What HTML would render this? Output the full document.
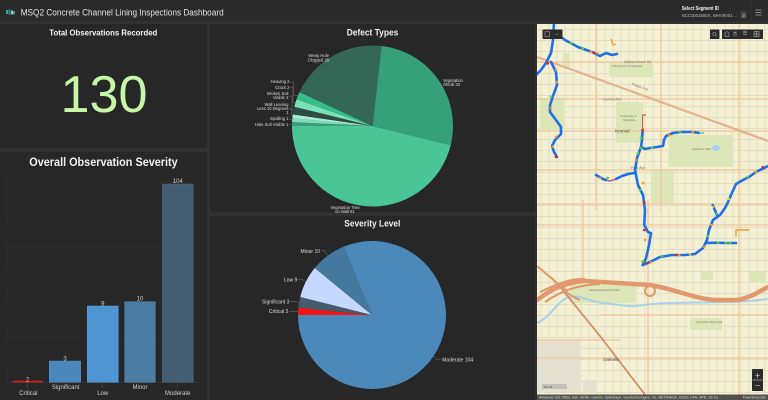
<!DOCTYPE html>
<html><head><meta charset="utf-8"><style>
html,body{margin:0;padding:0;background:#313131;width:768px;height:400px;overflow:hidden}
svg{display:block}
</style></head><body>
<svg width="768" height="400" viewBox="0 0 768 400" xmlns="http://www.w3.org/2000/svg" font-family="'Liberation Sans', sans-serif">
<defs>
<clipPath id="mc"><rect x="537" y="24" width="231" height="376"/></clipPath>
<pattern id="st" width="8" height="11" patternUnits="userSpaceOnUse" x="537" y="24">
<path d="M4 0V11M0 5.5H8" stroke="#dfd8c2" stroke-width="0.7" fill="none"/>
</pattern>
</defs>
<rect width="768" height="400" fill="#313131"/>
<!-- header -->
<rect x="0" y="0" width="768" height="21" fill="#2a2a2a"/>
<g>
<rect x="6" y="10" width="2" height="4" fill="#3fae5a"/>
<rect x="8.5" y="9.5" width="2" height="5" fill="#2f7fd0"/>
<rect x="11" y="10.5" width="2" height="4" fill="#9ed35a"/>
<rect x="13.2" y="11" width="1.6" height="3.5" fill="#4aa0e0"/>
</g>
<text x="20.7" y="15.3" font-size="9.5" fill="#e4e4e4" textLength="203" lengthAdjust="spacingAndGlyphs">MSQ2 Concrete Channel Lining Inspections Dashboard</text>
<text x="681.7" y="9.8" font-size="5.2" font-weight="bold" fill="#f0f0f0" textLength="37.3" lengthAdjust="spacingAndGlyphs">Select Segment ID</text>
<text x="681.7" y="17" font-size="4.8" fill="#bdbdbd" textLength="55.6" lengthAdjust="spacingAndGlyphs">SCC1001500X, WHV9001 ...</text>
<rect x="740.5" y="11.5" width="6" height="7" fill="#454545" rx="0.5"/>
<text x="743.5" y="16.8" font-size="4.5" fill="#ddd" text-anchor="middle">3</text>
<path d="M751 2V20" stroke="#3a3a3a" stroke-width="0.8"/>
<path d="M755.5 10H761.5M755.5 12.5H761.5M755.5 15H761.5" stroke="#aaa" stroke-width="0.8"/>

<!-- panels -->
<rect x="0" y="24" width="207" height="124" fill="#272727"/>
<rect x="0" y="152" width="207" height="248" fill="#272727"/>
<rect x="210" y="24" width="325" height="188.5" fill="#272727"/>
<rect x="210" y="216" width="325" height="184" fill="#272727"/>

<!-- Total observations -->
<text x="103.3" y="35.3" font-size="8.3" font-weight="bold" fill="#f4f4f4" text-anchor="middle" textLength="108" lengthAdjust="spacingAndGlyphs">Total Observations Recorded</text>
<text x="104" y="112" font-size="52" fill="#c6f6a8" text-anchor="middle" textLength="87" lengthAdjust="spacingAndGlyphs">130</text>

<!-- Bar chart -->
<text x="103.5" y="166" font-size="12" font-weight="bold" fill="#f0f0f0" text-anchor="middle" textLength="148.4" lengthAdjust="spacingAndGlyphs">Overall Observation Severity</text>
<g stroke="#3c3c3c" stroke-width="0.5" stroke-dasharray="1,1.5" fill="none">
<path d="M7 336.5H200M7 301.6H200M7 267H200M7 246.7H200M7 212H200M7 204.4H200M7 197.8H200M7 191.9H200M7 181.5H200"/>
<path d="M7 178V382"/>
</g>
<path d="M7 382.5H200" stroke="#3a3a3a" stroke-width="0.5"/>
<rect x="49.3" y="361" width="31.4" height="21.3" fill="#4a87bd" stroke="#5894c8" stroke-width="0.5"/>
<rect x="87.3" y="306" width="31" height="76.3" fill="#4e95d2" stroke="#5ca0da" stroke-width="0.5"/>
<rect x="124.7" y="301.7" width="30.6" height="80.6" fill="#4a7ca4" stroke="#5789b0" stroke-width="0.5"/>
<rect x="162.3" y="184" width="31" height="198.3" fill="#435e72" stroke="#4e6a80" stroke-width="0.5"/>
<rect x="12.7" y="380.8" width="30" height="1.6" fill="#e01818"/>
<g font-size="6" fill="#d0d0d0" text-anchor="middle">
<text x="27.7" y="381.5">2</text>
<text x="65" y="360.3">3</text>
<text x="102.8" y="305.3">9</text>
<text x="140" y="300.3">10</text>
<text x="177.8" y="183">104</text>
</g>
<path d="M27.7 382.5V388M102.8 382.5V388M177.8 382.5V388" stroke="#555" stroke-width="0.5"/>
<g font-size="6" fill="#cfcfcf" text-anchor="middle">
<text x="28.3" y="394.8">Critical</text>
<text x="65.7" y="388.8">Significant</text>
<text x="102.7" y="394.8">Low</text>
<text x="140" y="388.8">Minor</text>
<text x="177.7" y="394.8">Moderate</text>
</g>

<!-- Defect Types pie -->
<text x="372.5" y="35.7" font-size="9" font-weight="bold" fill="#f0f0f0" text-anchor="middle" textLength="51.6" lengthAdjust="spacingAndGlyphs">Defect Types</text>
<g>
<path d="M372.5 126L450.71 145.07A80.5 80.5 0 0 1 292 126Z" fill="#4ac596"/>
<path d="M372.5 126L292 126A80.5 80.5 0 0 1 292.09 122.11Z" fill="#3b9c79"/>
<path d="M372.5 126L292.09 122.11A80.5 80.5 0 0 1 292.38 118.23Z" fill="#7fdcb7"/>
<path d="M372.5 126L292.38 118.23A80.5 80.5 0 0 1 292.85 114.37Z" fill="#a6eed3"/>
<path d="M372.5 126L292.85 114.37A80.5 80.5 0 0 1 294.34 106.73Z" fill="#2e4c42"/>
<path d="M372.5 126L294.34 106.73A80.5 80.5 0 0 1 296.56 99.28Z" fill="#78e2b6"/>
<path d="M372.5 126L296.56 99.28A80.5 80.5 0 0 1 299.49 92.09Z" fill="#34bf89"/>
<path d="M372.5 126L299.49 92.09A80.5 80.5 0 0 1 381.61 46.02Z" fill="#346856"/>
<path d="M372.5 126L381.61 46.02A80.5 80.5 0 0 1 450.71 145.07Z" fill="#36a078"/>
</g>
<g stroke="#8a8a8a" stroke-width="0.4" fill="none">
<path d="M290 82H293.5V95L297.9 95.7"/>
<path d="M290 87.5H293V102.5L295.4 103"/>
<path d="M289 96H292V110.5L293.5 110.5"/>
<path d="M289 108.5H291.5V116.3L292.6 116.3"/>
<path d="M289 119H291V120.1L292.2 120.1"/>
<path d="M289 124.5H292"/>
</g>
<g font-size="4.2" fill="#dcdcdc" text-anchor="end">
<text x="289.5" y="83.2">Heaving 2</text>
<text x="289.5" y="88.8">Crack 2</text>
<text x="288.5" y="94.8">Broken Soil</text>
<text x="288.5" y="99.2">Visible 2</text>
<text x="288.5" y="105.8">Wall Leaning</text>
<text x="288.5" y="109.8">Less 10 Degrees</text>
<text x="288.5" y="114.2">1</text>
<text x="288.5" y="120.2">Spalling 1</text>
<text x="288.5" y="125.8">Hole Soil Visible 1</text>
<text x="329" y="57">Weep Hole</text>
<text x="329" y="61.5">Clogged 28</text>
</g>
<g font-size="4.2" fill="#dcdcdc">
<text x="443" y="81.8">Vegetation</text>
<text x="443" y="85.8">Shrub 33</text>
</g>
<g font-size="4.2" fill="#dcdcdc" text-anchor="middle">
<text x="345" y="209">Vegetation Tree</text>
<text x="345" y="213.2">on Wall 61</text>
</g>

<!-- Severity pie -->
<text x="372.3" y="226.3" font-size="9" font-weight="bold" fill="#f0f0f0" text-anchor="middle" textLength="56" lengthAdjust="spacingAndGlyphs">Severity Level</text>
<path d="M372 315L343.68 246.63A74 74 0 1 1 298 315Z" fill="#4a89ba"/>
<path d="M372 315L298 315A74 74 0 0 1 298.36 307.74Z" fill="#f41414"/>
<path d="M372 315L298.36 307.74A74 74 0 0 1 300.22 297.02Z" fill="#445b6c"/>
<path d="M372 315L300.22 297.02A74 74 0 0 1 314.8 268.05Z" fill="#c6d8ff"/>
<path d="M372 315L314.8 268.05A74 74 0 0 1 343.68 246.63Z" fill="#44789d"/>
<g stroke="#8a8a8a" stroke-width="0.4" fill="none">
<path d="M321 250.5H324.5L327.5 255.5"/>
<path d="M298.5 279.7H302.5L305.9 281.8"/>
<path d="M290 301.7H295L299.1 302.4"/>
<path d="M289 311.3H298.1"/>
<path d="M433.5 356.1L437 359.5H441"/>
</g>
<g font-size="5" fill="#dcdcdc" text-anchor="end">
<text x="320" y="252.8">Minor 10</text>
<text x="297.3" y="281.5">Low 9</text>
<text x="289.3" y="303.5">Significant 3</text>
<text x="288.3" y="313.1">Critical 2</text>
</g>
<text x="442.3" y="361.5" font-size="5" fill="#dcdcdc">Moderate 104</text>

<!-- Map -->
<g clip-path="url(#mc)">
<rect x="537" y="24" width="231" height="376" fill="#f4f0d3"/>
<rect x="537" y="24" width="231" height="376" fill="url(#st)"/>
<!-- parks -->
<g fill="#dde6b6">
<rect x="609" y="62" width="44" height="15" rx="2"/>
<rect x="616" y="102" width="27" height="41" rx="1"/>
<rect x="669" y="135" width="64" height="32" rx="2"/>
<rect x="540" y="98" width="24" height="32" rx="1"/>
<rect x="651" y="170" width="23" height="33" rx="1"/>
<rect x="563" y="53" width="7" height="14"/>
<rect x="570" y="285" width="66" height="18" rx="3"/>
<rect x="701" y="272" width="12" height="8"/>
<rect x="749" y="272" width="17" height="11"/>
<rect x="690" y="318" width="32" height="12" rx="2"/>
</g>
<ellipse cx="716" cy="148" rx="4" ry="3" fill="#a9d1ec"/>
<rect x="537" y="340" width="43" height="52" fill="#e3e0d0"/>
<rect x="583" y="380" width="13" height="13" fill="#e3e0d0"/>
<!-- arterials -->
<g stroke="#f0cba0" stroke-width="1.5" fill="none">
<path d="M537 62H768M537 99H768M537 131H768M537 170H768M537 204H768M537 225H768M537 358H768M537 340H620M600 315H768"/>
<path d="M596 24V210M661 24V210M648 200V400M583 200V280M739 24V400"/>
</g>
<path d="M537 57L768 141" stroke="#e6b08a" stroke-width="2.2" fill="none"/>
<!-- river -->
<path d="M537 323C550 318 558 300 569 297S590 302 603 303S625 307 636 306S655 303 669 303S720 302 736 301.7S758 300 768 299" stroke="#a9d1ec" stroke-width="2" fill="none"/>
<!-- railway -->
<path d="M561 288L600 336L646 396" stroke="#d28e66" stroke-width="1.8" fill="none"/>
<!-- highway -->
<g stroke="#e0986c" stroke-width="4.5" fill="none" stroke-linecap="round">
<path d="M537 300C548 292 560 283 585 281L650 285C675 289 695 299 715 300L738 300C752 297 760 291 768 287"/>
</g>
<g stroke="#e0986c" stroke-width="2" fill="none">
<path d="M537 266C548 275 555 282 566 290"/>
<path d="M540 292C555 285 570 278 585 279"/>
<path d="M545 302C560 292 575 285 600 284"/>
<path d="M552 278C560 288 570 296 580 300"/>
<circle cx="650" cy="291" r="5"/>
</g>
<!-- map labels -->
<g font-size="3.6" fill="#7a7a68">
<text x="624" y="63.2">Walnut Grove Rd</text>
<text x="631" y="88" transform="rotate(20 640 88)">Poplar Ave</text>
<text x="603" y="100.3">Central Ave</text>
<text x="631" y="169">Park Ave</text>
<text x="620" y="117" font-size="3">University of</text>
<text x="623" y="121" font-size="3">Memphis</text>
<text x="692" y="150" font-size="3">Audubon Park</text>
<text x="589" y="291" font-size="3">Seat Buckingham Park</text>
<text x="696" y="323" font-size="3">American Way Park</text>
<text x="612" y="67" font-size="3">The Grove of Oakness</text>
</g>
<text x="615" y="132.5" font-size="4.5" fill="#555">Normal</text>
<text x="603" y="361" font-size="4.5" fill="#555">Oakville</text>
<!-- inspection lines -->
<g stroke="#1f6fe5" stroke-width="2.6" fill="none" stroke-linejoin="round" stroke-linecap="round">
<path d="M554 22L553 40L551 53L546 63L541 70L536 75"/>
<path d="M551 62L556 72L557 85L553 96L550 105L550 112L556 120L561 127L561 134L555 140L552 146L554 152L557 157"/>
<path d="M556 33L565 40L578 47L592 52L600 56L606 53L612 55L617 54"/>
<path d="M642.7 130L642 140L641 147L637 158L635 170L638 185L643 195L645 210L644.3 225L647.7 231.7L651 233.3L648.7 246.7L646 258.3L642.7 265"/>
<path d="M642.7 265L650 262L660 257L672 255L685 255L695 254L703 248L707 240L709 230L713 220L720 215L725 208L728 202L731 195L736 184L743 180L749 177L756 172L768 166"/>
<path d="M712.7 205L717.7 216.7"/>
<path d="M707 243L716 242.7L725 243L736 243"/>
<path d="M641 147L645 149L650 148L657 147L663 146L664 140L666 136L673 133L682 132L693 132L699 133"/>
<path d="M596 175L603 179L606 180"/>
<path d="M616 179L622 176L628 174L634 173"/>
</g>
<path d="M606 180L610 181L616 179" stroke="#b05090" stroke-width="1.4" fill="none"/>
<path d="M699 133L704 133" stroke="#5cc6c0" stroke-width="1.4" fill="none"/>
<path d="M646 115H642.7V130" stroke="#e02a2a" stroke-width="0.9" fill="none"/>
<path d="M736 236.7V230H749.3" stroke="#f0a030" stroke-width="1.4" fill="none"/>
<path d="M611 39L613 45L616 44" stroke="#f0a030" stroke-width="1.4" fill="none"/>
<!-- dots -->
<g>
<g fill="#5bd43a">
<circle cx="571" cy="43.3" r="1.4"/><circle cx="582.7" cy="48.3" r="1.4"/><circle cx="551" cy="96.7" r="1.3"/>
<circle cx="641" cy="138" r="1.4"/><circle cx="641" cy="148" r="1.4"/><circle cx="637.7" cy="153.3" r="1.3"/>
<circle cx="642.7" cy="261.7" r="1.4"/><circle cx="662" cy="256" r="1.3"/><circle cx="718" cy="242.7" r="1.3"/>
<circle cx="726" cy="243" r="1.3"/><circle cx="730" cy="243" r="1.3"/><circle cx="747.7" cy="176.7" r="1.3"/>
<circle cx="607.7" cy="178" r="1.3"/><circle cx="680" cy="132" r="1.3"/><circle cx="652" cy="148" r="1.3"/>
<circle cx="716" cy="214" r="1.2"/><circle cx="640" cy="190" r="1.3"/><circle cx="708" cy="236" r="1.3"/>
</g>
<g fill="#f39c1e">
<circle cx="556" cy="70" r="1.3"/><circle cx="557" cy="82" r="1.3"/><circle cx="551" cy="108" r="1.3"/>
<circle cx="556" cy="137" r="1.3"/><circle cx="552.7" cy="146.7" r="1.3"/><circle cx="591" cy="51.7" r="1.3"/>
<circle cx="597.7" cy="53.3" r="1.3"/><circle cx="636" cy="160" r="1.3"/><circle cx="643" cy="183" r="1.3"/>
<circle cx="651" cy="262.3" r="1.3"/><circle cx="679.3" cy="255" r="1.3"/><circle cx="704.3" cy="246.7" r="1.3"/>
<circle cx="669.3" cy="135" r="1.3"/><circle cx="692.7" cy="132" r="1.3"/><circle cx="756" cy="172" r="1.3"/>
<circle cx="711" cy="225" r="1.2"/><circle cx="645" cy="240" r="1.3"/><circle cx="600" cy="178" r="1.2"/>
</g>
<g fill="#e3262a">
<circle cx="547.7" cy="63.3" r="1.4"/><circle cx="556" cy="156.7" r="1.4"/><circle cx="594.3" cy="52.7" r="1.3"/>
<circle cx="642.7" cy="130" r="1.4"/><circle cx="644.3" cy="202.7" r="1.4"/><circle cx="644.3" cy="230" r="1.3"/>
<circle cx="646" cy="263.3" r="1.3"/><circle cx="676" cy="255" r="1.3"/><circle cx="762.7" cy="167" r="1.3"/>
</g>
<g fill="#f2d02a">
<circle cx="713" cy="207" r="1.2"/><circle cx="729" cy="199" r="1.2"/><circle cx="690" cy="254.5" r="1.2"/>
</g>
</g>
<!-- widgets -->
<rect x="542.5" y="29.5" width="20" height="9.5" fill="#2b2b2b" rx="0.6"/>
<rect x="545" y="31.8" width="4.5" height="5" fill="none" stroke="#bbb" stroke-width="0.5"/>
<path d="M555.5 33.5L557 35L558.5 33.5" stroke="#bbb" stroke-width="0.5" fill="none"/>
<rect x="710" y="29.5" width="9.5" height="9.5" fill="#2b2b2b" rx="0.6"/>
<circle cx="714.3" cy="33.8" r="1.6" fill="none" stroke="#ccc" stroke-width="0.5"/>
<path d="M715.5 35L717 36.5" stroke="#ccc" stroke-width="0.5"/>
<rect x="722" y="29.5" width="41" height="9.5" fill="#2b2b2b" rx="0.6"/>
<g stroke="#ccc" stroke-width="0.5" fill="none">
<path d="M725 36.5V33L727 31.5L729 33V36.5Z"/>
<path d="M734 31.5V36.5M736 31.5V36.5M734 32.5H736"/>
<path d="M743 32L745 31L747 32L745 33Z M743 34L745 35L747 34"/>
<rect x="754" y="31.5" width="5" height="5"/>
<path d="M756.5 31.5V36.5M754 34H759"/>
</g>
<rect x="542" y="384" width="25" height="5" fill="#999" opacity="0.45"/>
<text x="544" y="387.8" font-size="3" fill="#333">0.4 mi</text>
<rect x="752" y="369" width="11" height="22" fill="#2b2b2b" rx="0.6"/>
<path d="M755 375.5H760M757.5 373V378M755 385.5H760M752.5 380H762.5" stroke="#ddd" stroke-width="0.6"/>
<rect x="537" y="394.5" width="231" height="5.5" fill="#3a3a3a" opacity="0.88"/>
<text x="539" y="398.6" font-size="3.2" fill="#ddd" textLength="182" lengthAdjust="spacingAndGlyphs">Arkansas GIS Office, Esri, HERE, Garmin, SafeGraph, GeoTechnologies, Inc, METI/NASA, USGS, EPA, NPS, US Ce...</text>
<text x="766" y="398.6" font-size="3.2" fill="#ddd" text-anchor="end">Powered by Esri</text>
</g>
</svg>
</body></html>
